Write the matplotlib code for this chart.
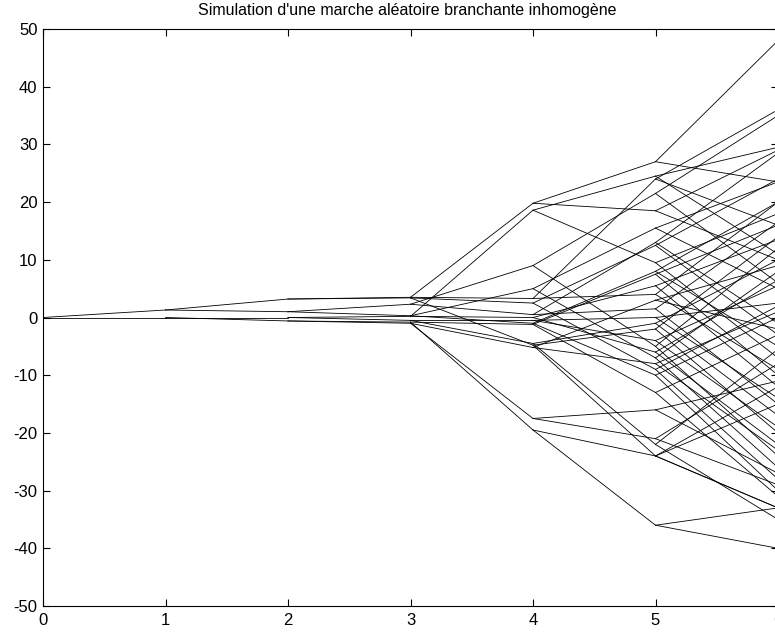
import matplotlib
matplotlib.use("Agg")
import matplotlib.pyplot as plt

plt.rcParams['font.family'] = ['Liberation Sans', 'DejaVu Sans']
plt.rcParams['axes.unicode_minus'] = False

# positions of the particles, one list per generation
# (binary branching: node i of generation k is the parent of nodes 2i and 2i+1 of generation k+1)
gen0 = [0.0]
gen1 = [1.3, 0.0]
gen2 = [3.2, 1.0, 0.0, -0.6]
gen3 = [3.5, 3.4, 2.3, 0.3, 0.2, -0.5, -0.8, -1.0]
gen4 = [19.8, 3.3, 2.5, -4.8, 9.0, 0.5, 5.0, -1.0,
        18.6, 0.0, -4.5, -0.5, -1.2, -19.5, -5.2, -17.5]
gen5 = [27, 18.5, 24, 4, 12.5, -9, -2, -24,
        21.5, -5, 13, 1.5, 15.5, -7, 8, -10,
        24.5, 9.5, 5.5, -6, -1, -22, 0, -4,
        7.5, -13, -24, -36, 3, -8, -16, -21]
gen6 = [48, 23.5, 29, 10, 36, 16, 20, -9,
        24, -3, 2, -28, 14, -20, -12, -33,
        35, 6, 12, -24, 28.5, -1, 16.5, -15,
        23.5, 5, 8, -26, 20, -5, 0, -30,
        29.5, 11, 18, -7, 13.5, -12, 6.5, -22,
        10, -17, -5.5, -35, 2.5, -14, 5.5, -19,
        16, -10, -3, -31, -15, -33, -33, -40,
        9, -2, 1, -23, -11, -27, -8, -29]
generations = [gen0, gen1, gen2, gen3, gen4, gen5, gen6]

title = "Simulation d'une marche aléatoire branchante inhomogène"

fig = plt.figure(figsize=(7.75, 6.34), dpi=100)
# the axes run slightly past the right edge, as in the cropped original
ax = fig.add_axes([43 / 775, 28 / 634, 735 / 775, 577 / 634])

for t in range(1, len(generations)):
    parents = generations[t - 1]
    children = generations[t]
    for i, y in enumerate(children):
        ax.plot([t - 1, t], [parents[i // 2], y], color='black', lw=0.6)

ax.set_xlim(0, 6)
ax.set_ylim(-50, 50)
ax.set_xticks(range(0, 7))
ax.set_yticks(range(-50, 51, 10))
ax.tick_params(direction='in', length=5, width=0.8, top=True, right=True,
               labelsize=12)
ax.tick_params(axis='x', pad=5)
ax.tick_params(axis='y', pad=4)
for s in ax.spines.values():
    s.set_linewidth(0.8)

fig.text(0.525, 0.984, title, ha='center', va='center', fontsize=11.5)

fig.savefig('out.png', dpi=100)
